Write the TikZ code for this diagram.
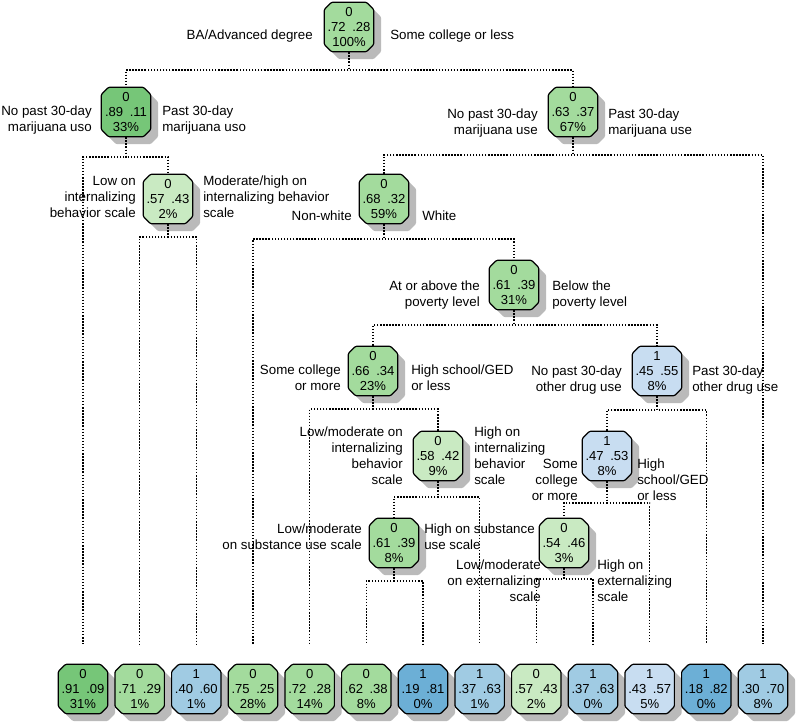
\documentclass[tikz,border=0pt]{standalone}
\usepackage{fontspec}
\setmainfont{Liberation Sans}
\usetikzlibrary{shapes.misc,shadows}

\definecolor{gdark}{RGB}{118,198,120}
\definecolor{gmid}{RGB}{163,219,157}
\definecolor{glight}{RGB}{201,234,194}
\definecolor{bdark}{RGB}{108,175,214}
\definecolor{bmid}{RGB}{160,203,227}
\definecolor{blight}{RGB}{200,221,241}

\tikzset{
  tnode/.style={chamfered rectangle, chamfered rectangle xsep=1.8pt, draw, line width=0.9pt,
    rounded corners=0.8pt,
    minimum width=37pt, minimum height=37pt, inner sep=0.5pt, align=center,
    font=\fontsize{9.8}{11}\selectfont,
    drop shadow={shadow xshift=5.5pt, shadow yshift=-5.5pt, fill=black!27, opacity=1}},
  lab/.style={inner sep=0pt, font=\fontsize{10}{12}\selectfont},
  labl/.style={lab, anchor=east, align=right},
  labr/.style={lab, anchor=west, align=left},
  branch/.style={line width=1.15pt, dash pattern=on 1.1pt off 1.2pt}
}

\begin{document}
\begin{tikzpicture}[x=0.75pt,y=-0.75pt]
\useasboundingbox (0,0) rectangle (800,726);
% inner nodes
\node[tnode, fill=gmid] (root) at (349,27) {0\\.72\enspace.28\\100\%};
\node[tnode, fill=gdark] (A) at (126,112) {0\\.89\enspace.11\\33\%};
\node[tnode, fill=gmid] (B) at (573,112) {0\\.63\enspace.37\\67\%};
\node[tnode, fill=glight] (C) at (168,199) {0\\.57\enspace.43\\2\%};
\node[tnode, fill=gmid] (D) at (384,199) {0\\.68\enspace.32\\59\%};
\node[tnode, fill=gmid] (E) at (514,285) {0\\.61\enspace.39\\31\%};
\node[tnode, fill=gmid] (F) at (373,371) {0\\.66\enspace.34\\23\%};
\node[tnode, fill=blight] (G) at (657,371) {1\\.45\enspace.55\\8\%};
\node[tnode, fill=glight] (H) at (438,456) {0\\.58\enspace.42\\9\%};
\node[tnode, fill=blight] (K) at (607,456) {1\\.47\enspace.53\\8\%};
\node[tnode, fill=gmid] (I) at (394,543) {0\\.61\enspace.39\\8\%};
\node[tnode, fill=glight] (J) at (564,543) {0\\.54\enspace.46\\3\%};
% leaves
\node[tnode, fill=gdark] (l1) at (83,689) {0\\.91\enspace.09\\31\%};
\node[tnode, fill=gmid] (l2) at (139.7,689) {0\\.71\enspace.29\\1\%};
\node[tnode, fill=bmid] (l3) at (196.3,689) {1\\.40\enspace.60\\1\%};
\node[tnode, fill=gmid] (l4) at (253,689) {0\\.75\enspace.25\\28\%};
\node[tnode, fill=gmid] (l5) at (309.7,689) {0\\.72\enspace.28\\14\%};
\node[tnode, fill=gmid] (l6) at (366.3,689) {0\\.62\enspace.38\\8\%};
\node[tnode, fill=bdark] (l7) at (423,689) {1\\.19\enspace.81\\0\%};
\node[tnode, fill=bmid] (l8) at (479.7,689) {1\\.37\enspace.63\\1\%};
\node[tnode, fill=glight] (l9) at (536.3,689) {0\\.57\enspace.43\\2\%};
\node[tnode, fill=bmid] (l10) at (593,689) {1\\.37\enspace.63\\0\%};
\node[tnode, fill=blight] (l11) at (649.7,689) {1\\.43\enspace.57\\5\%};
\node[tnode, fill=bdark] (l12) at (706.3,689) {1\\.18\enspace.82\\0\%};
\node[tnode, fill=bmid] (l13) at (763,689) {1\\.30\enspace.70\\8\%};
% split labels
\node[labl] (rootl) at (313,36) {BA/Advanced degree};
\node[labr] (rootr) at (390,36) {Some college or less};
\node[labl] (Al) at (92,120) {No past 30-day\\marijuana uso};
\node[labr] (Ar) at (162,120) {Past 30-day\\marijuana uso};
\node[labl] (Bl) at (538,123) {No past 30-day\\marijuana use};
\node[labr] (Br) at (608,123) {Past 30-day\\marijuana use};
\node[labl] (Cl) at (136,197) {Low on\\internalizing\\behavior scale};
\node[labr] (Cr) at (203,197) {Moderate/high on\\internalizing behavior\\scale};
\node[labl] (Dl) at (352,216) {Non-white};
\node[labr] (Dr) at (422,216) {White};
\node[labl] (El) at (480,295) {At or above the\\poverty level};
\node[labr] (Er) at (552,295) {Below the\\poverty level};
\node[labl] (Fl) at (341,378) {Some college\\or more};
\node[labr] (Fr) at (411,378) {High school/GED\\or less};
\node[labl] (Gl) at (622,380) {No past 30-day\\other drug use};
\node[labr] (Gr) at (692,380) {Past 30-day\\other drug use};
\node[labl] (Hl) at (403,456) {Low/moderate on\\internalizing\\behavior\\scale};
\node[labr] (Hr) at (474,456) {High on\\internalizing\\behavior\\scale};
\node[labl] (Kl) at (578,480) {Some\\college\\or more};
\node[labr] (Kr) at (637,480) {High\\school/GED\\or less};
\node[labl] (Il) at (362,537) {Low/moderate\\on substance use scale};
\node[labr] (Ir) at (424,537) {High on substance\\use scale};
\node[labl] (Jl) at (541,581) {Low/moderate\\on externalizing\\scale};
\node[labr] (Jr) at (597,581) {High on\\externalizing\\scale};
% branches
\draw[branch] (root.south) |- (A.north |- 0,70) -- (A.north);
\draw[branch] (root.south) |- (B.north |- 0,70) -- (B.north);
\draw[branch, shorten >=15pt] (A.south) |- (l1.north |- 0,157) -- (l1.north);
\draw[branch] (A.south) |- (C.north |- 0,157) -- (C.north);
\draw[branch] (B.south) |- (D.north |- 0,155) -- (D.north);
\draw[branch, shorten >=15pt] (B.south) |- (l13.north |- 0,155) -- (l13.north);
\draw[branch, shorten >=15pt] (C.south) |- (l2.north |- 0,237) -- (l2.north);
\draw[branch, shorten >=15pt] (C.south) |- (l3.north |- 0,237) -- (l3.north);
\draw[branch, shorten >=15pt] (D.south) |- (l4.north |- 0,239) -- (l4.north);
\draw[branch] (D.south) |- (E.north |- 0,239) -- (E.north);
\draw[branch] (E.south) |- (F.north |- 0,325) -- (F.north);
\draw[branch] (E.south) |- (G.north |- 0,325) -- (G.north);
\draw[branch, shorten >=15pt] (F.south) |- (l5.north |- 0,409) -- (l5.north);
\draw[branch] (F.south) |- (H.north |- 0,409) -- (H.north);
\draw[branch] (G.south) |- (K.north |- 0,410) -- (K.north);
\draw[branch, shorten >=15pt] (G.south) |- (l12.north |- 0,410) -- (l12.north);
\draw[branch] (H.south) |- (I.north |- 0,497) -- (I.north);
\draw[branch, shorten >=15pt] (H.south) |- (l8.north |- 0,497) -- (l8.north);
\draw[branch] (K.south) |- (J.north |- 0,503) -- (J.north);
\draw[branch, shorten >=15pt] (K.south) |- (l11.north |- 0,503) -- (l11.north);
\draw[branch, shorten >=15pt] (I.south) |- (l6.north |- 0,581) -- (l6.north);
\draw[branch, shorten >=15pt] (I.south) |- (l7.north |- 0,581) -- (l7.north);
\draw[branch, shorten >=15pt] (J.south) |- (l9.north |- 0,579) -- (l9.north);
\draw[branch, shorten >=15pt] (J.south) |- (l10.north |- 0,579) -- (l10.north);
\end{tikzpicture}
\end{document}
